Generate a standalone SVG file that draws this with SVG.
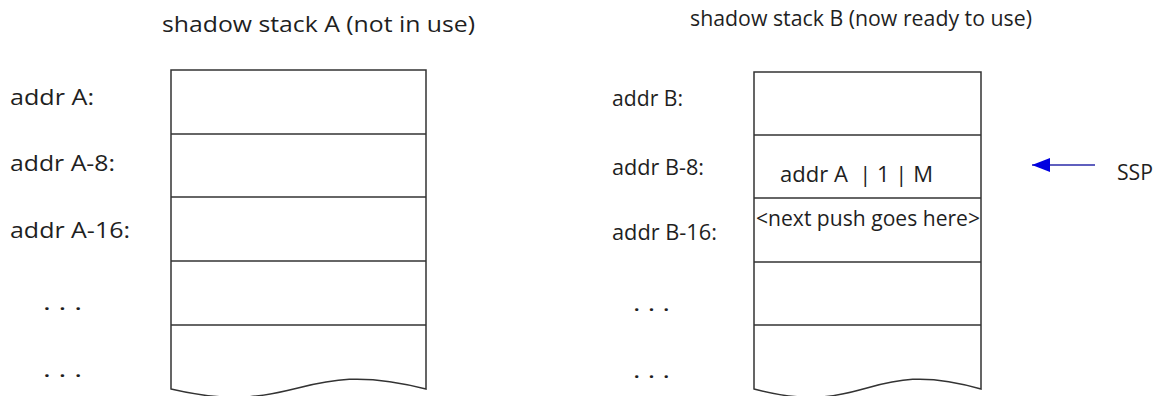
<svg xmlns="http://www.w3.org/2000/svg" width="1168" height="396" viewBox="0 0 1168 396">
  <style>
    .t { font-family: "Open Sans", "Noto Sans", sans-serif; font-size: 21px; fill: #1f1f1f; }
    .title { font-size: 21px; }
    .box { fill: #ffffff; stroke: #333333; stroke-width: 1.5; }
    .div { stroke: #333333; stroke-width: 1.5; fill: none; }
  </style>
  <defs>
    <marker id="ah" viewBox="0 0 18 14" refX="18" refY="7" markerWidth="18" markerHeight="14" markerUnits="userSpaceOnUse" orient="auto">
      <path d="M18,7 L0,0 L0,14 Z" fill="#0000e0"/>
    </marker>
  </defs>
  <rect width="1168" height="396" fill="#ffffff"/>

  <g id="title-a">
    <text class="t title" x="162" y="32" textLength="313" lengthAdjust="spacingAndGlyphs">shadow stack A (not in use)</text>
  </g>
  <g id="title-b">
    <text class="t title" x="690" y="26" textLength="342" lengthAdjust="spacingAndGlyphs">shadow stack B (now ready to use)</text>
  </g>

  <g id="labels-a">
    <text class="t" x="10" y="105" textLength="84" lengthAdjust="spacingAndGlyphs">addr A:</text>
    <text class="t" x="10" y="171" textLength="105" lengthAdjust="spacingAndGlyphs">addr A-8:</text>
    <text class="t" x="10" y="238" textLength="120" lengthAdjust="spacingAndGlyphs">addr A-16:</text>
    <text class="t" x="43" y="310" textLength="39" lengthAdjust="spacingAndGlyphs">. . .</text>
    <text class="t" x="43" y="377" textLength="39" lengthAdjust="spacingAndGlyphs">. . .</text>
  </g>

  <g id="stack-a">
    <path class="box" d="M171,70 L426,70 L426,389 C298,356 298,419 171,389 Z"/>
    <line class="div" x1="171" y1="134" x2="426" y2="134"/>
    <line class="div" x1="171" y1="197" x2="426" y2="197"/>
    <line class="div" x1="171" y1="261" x2="426" y2="261"/>
    <line class="div" x1="171" y1="325" x2="426" y2="325"/>
  </g>

  <g id="labels-b">
    <text class="t" x="612" y="106" textLength="71" lengthAdjust="spacingAndGlyphs">addr B:</text>
    <text class="t" x="612" y="175" textLength="92" lengthAdjust="spacingAndGlyphs">addr B-8:</text>
    <text class="t" x="612" y="240" textLength="105" lengthAdjust="spacingAndGlyphs">addr B-16:</text>
    <text class="t" x="633" y="311" textLength="37" lengthAdjust="spacingAndGlyphs">. . .</text>
    <text class="t" x="633" y="378" textLength="37" lengthAdjust="spacingAndGlyphs">. . .</text>
  </g>

  <g id="stack-b">
    <path class="box" d="M754,72 L981,72 L981,389 C867,356 867,419 754,389 Z"/>
    <line class="div" x1="754" y1="135" x2="981" y2="135"/>
    <line class="div" x1="754" y1="198" x2="981" y2="198"/>
    <line class="div" x1="754" y1="262" x2="981" y2="262"/>
    <line class="div" x1="754" y1="325" x2="981" y2="325"/>
    <text class="t" x="780" y="182" textLength="153" lengthAdjust="spacingAndGlyphs" xml:space="preserve" style="white-space:pre">addr A  | 1 | M</text>
    <text class="t" x="756" y="226" textLength="224" lengthAdjust="spacingAndGlyphs">&lt;next push goes here&gt;</text>
  </g>

  <g id="ssp">
    <text class="t" x="1117" y="180" textLength="36" lengthAdjust="spacingAndGlyphs">SSP</text>
  </g>

  <g id="connectors">
    <line x1="1095" y1="165" x2="1032" y2="165" stroke="#2a2aa8" stroke-width="1.5" marker-end="url(#ah)"/>
  </g>
</svg>
